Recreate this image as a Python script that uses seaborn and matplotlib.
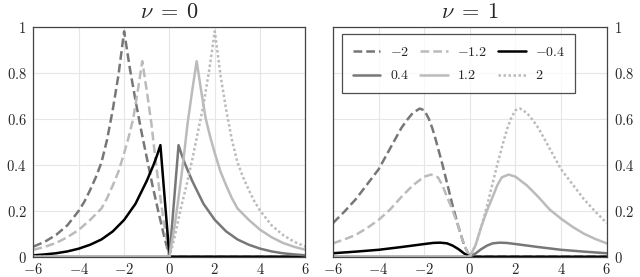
import matplotlib
matplotlib.use('Agg')
import matplotlib.pyplot as plt
from matplotlib.ticker import FuncFormatter
import seaborn as sns

# values, nu = 0 panel
x0_m20 = [-6, -5.5, -5, -4.5, -4, -3.75, -3.5, -3.25, -3, -2.75, -2.5, -2.25, -2,
          -1.75, -1.5, -1.25, -1, -0.75, -0.5, -0.25, 0, 6]
y0_m20 = [0.044, 0.065, 0.095, 0.137, 0.20, 0.24, 0.29, 0.345, 0.41, 0.51, 0.64, 0.79, 0.98,
          0.82, 0.68, 0.55, 0.43, 0.31, 0.20, 0.095, 0, 0]
x0_m12 = [-6, -5.5, -5, -4.5, -4, -3.5, -3, -2.75, -2.5, -2.25, -2, -1.8, -1.6, -1.4, -1.2,
          -1.1, -1, -0.8, -0.65, -0.5, -0.35, -0.25, 0, 6]
y0_m12 = [0.03, 0.043, 0.06, 0.085, 0.117, 0.16, 0.21, 0.255, 0.31, 0.37, 0.45, 0.52, 0.60, 0.72, 0.85,
          0.785, 0.72, 0.58, 0.45, 0.33, 0.22, 0.15, 0, 0]
x0_m04 = [-6, -5.5, -5, -4.5, -4, -3.5, -3, -2.5, -2.25, -2, -1.75, -1.5, -1.25, -1, -0.85,
          -0.7, -0.55, -0.4, -0.2, 0, 6]
y0_m04 = [0.006, 0.01, 0.015, 0.023, 0.035, 0.052, 0.075, 0.11, 0.135, 0.16, 0.195, 0.23, 0.28, 0.33, 0.365,
          0.40, 0.44, 0.485, 0.24, 0, 0]
x0_p04 = [-6, 0, 0.2, 0.4, 0.55, 0.7, 0.85, 1, 1.25, 1.5, 1.75, 2, 2.25, 2.5, 3, 3.5, 4, 4.5,
          5, 5.5, 6]
y0_p04 = [0, 0, 0.24, 0.485, 0.44, 0.40, 0.365, 0.33, 0.28, 0.23, 0.195, 0.16, 0.135, 0.11, 0.075, 0.052, 0.035, 0.023,
          0.015, 0.01, 0.006]
x0_p12 = [-6, 0, 0.25, 0.35, 0.5, 0.65, 0.8, 1, 1.1, 1.2, 1.4, 1.6, 1.8, 2, 2.25, 2.5, 2.75, 3,
          3.5, 4, 4.5, 5, 5.5, 6]
y0_p12 = [0, 0, 0.15, 0.22, 0.33, 0.45, 0.58, 0.72, 0.785, 0.85, 0.72, 0.60, 0.52, 0.45, 0.37, 0.31, 0.255, 0.21,
          0.16, 0.117, 0.085, 0.06, 0.043, 0.03]
x0_p20 = [-6, 0, 0.25, 0.5, 0.75, 1, 1.25, 1.5, 1.75, 2, 2.25, 2.5, 2.75, 3, 3.25, 3.5, 3.75, 4,
          4.5, 5, 5.5, 6]
y0_p20 = [0, 0, 0.095, 0.21, 0.31, 0.42, 0.54, 0.66, 0.81, 0.98, 0.79, 0.64, 0.51, 0.41, 0.345, 0.29, 0.24, 0.20,
          0.137, 0.095, 0.065, 0.044]

# nu = 1 panel
x1_m20 = [-6, -5.5, -5, -4.5, -4, -3.5, -3, -2.75, -2.5, -2.2, -2, -1.8, -1.65, -1.5, -1.35, -1.2,
          -1, -0.75, -0.5, -0.25, 0, 6]
y1_m20 = [0.146, 0.196, 0.25, 0.315, 0.38, 0.47, 0.56, 0.595, 0.625, 0.644, 0.637, 0.60, 0.56, 0.51, 0.455, 0.40,
          0.32, 0.22, 0.13, 0.05, 0, 0]
x1_m12 = [-6, -5.5, -5, -4.5, -4, -3.5, -3, -2.5, -2, -1.7, -1.4, -1.2, -1, -0.75, -0.5, -0.25, 0, 6]
y1_m12 = [0.058, 0.075, 0.095, 0.125, 0.16, 0.205, 0.26, 0.31, 0.348, 0.357, 0.345, 0.31, 0.26, 0.20, 0.13, 0.05, 0, 0]
x1_m04 = [-6, -5, -4, -3, -2, -1.6, -1.3, -1, -0.75, -0.5, -0.25, 0, 6]
y1_m04 = [0.015, 0.022, 0.03, 0.042, 0.055, 0.06, 0.061, 0.058, 0.048, 0.033, 0.014, 0, 0]
x1_p04 = [-6, 0, 0.25, 0.5, 0.75, 1, 1.3, 1.6, 2, 3, 4, 5, 6]
y1_p04 = [0, 0, 0.014, 0.033, 0.048, 0.058, 0.061, 0.06, 0.055, 0.042, 0.03, 0.022, 0.015]
x1_p12 = [-6, 0, 0.25, 0.5, 0.75, 1, 1.2, 1.4, 1.7, 2, 2.5, 3, 3.5, 4, 4.5, 5, 5.5, 6]
y1_p12 = [0, 0, 0.05, 0.13, 0.20, 0.26, 0.31, 0.345, 0.357, 0.348, 0.31, 0.26, 0.205, 0.165, 0.13, 0.10, 0.077, 0.058]
x1_p20 = [-6, 0, 0.25, 0.5, 0.75, 1, 1.2, 1.35, 1.5, 1.65, 1.8, 2, 2.2, 2.5, 2.75, 3, 3.5, 4,
          4.5, 5, 5.5, 6]
y1_p20 = [0, 0, 0.05, 0.13, 0.22, 0.32, 0.40, 0.455, 0.51, 0.56, 0.60, 0.637, 0.644, 0.625, 0.595, 0.56, 0.47, 0.38,
          0.315, 0.25, 0.196, 0.146]

labels = ['$-2$', '$-1.2$', '$-0.4$', '$0.4$', '$1.2$', '$2$']
colors = ['#777777', '#bbbbbb', '#000000', '#777777', '#bbbbbb', '#bbbbbb']
styles = [(0, (3.5, 1.6)), (0, (3.5, 1.6)), '-', '-', '-', (0, (1, 1))]

panels = [
    ('$\\nu\\;=\\;0$', [(x0_m20, y0_m20), (x0_m12, y0_m12), (x0_m04, y0_m04),
                        (x0_p04, y0_p04), (x0_p12, y0_p12), (x0_p20, y0_p20)]),
    ('$\\nu\\;=\\;1$', [(x1_m20, y1_m20), (x1_m12, y1_m12), (x1_m04, y1_m04),
                        (x1_p04, y1_p04), (x1_p12, y1_p12), (x1_p20, y1_p20)]),
]

sns.set_theme(style='white')
plt.rcParams['mathtext.fontset'] = 'cm'
plt.rcParams['font.family'] = ['DejaVu Serif']

fig = plt.figure(figsize=(6.4, 2.77), dpi=100)
axes = [fig.add_axes([0.0523, 0.0733, 0.4250, 0.8303]),
        fig.add_axes([0.5203, 0.0733, 0.4277, 0.8303])]

fmt = FuncFormatter(lambda v, _: f'${v:g}$')

for ax, (title, curves) in zip(axes, panels):
    for (xs, ys), lab, c, ls in zip(curves, labels, colors, styles):
        sns.lineplot(x=xs, y=ys, ax=ax, color=c, linestyle=ls, lw=1.8,
                     sort=False, estimator=None, label=lab, legend=False)
    ax.set_xlim(-6, 6)
    ax.set_ylim(0, 1)
    ax.set_xticks(range(-6, 7, 2))
    ax.set_yticks([0, 0.2, 0.4, 0.6, 0.8, 1])
    ax.xaxis.set_major_formatter(fmt)
    ax.yaxis.set_major_formatter(fmt)
    ax.tick_params(length=0, labelsize=10.5, pad=5)
    ax.tick_params(axis='x', pad=4)
    ax.grid(True, color='#e6e6e6', lw=0.8)
    ax.set_axisbelow(True)
    for s in ax.spines.values():
        s.set_color('#444444')
        s.set_linewidth(0.9)
    ax.set_title(title, fontsize=16, pad=6)

axes[1].yaxis.tick_right()

# legend filled row by row, as in the reference
h, l = axes[1].get_legend_handles_labels()
order = [0, 3, 1, 4, 2, 5]
leg = axes[1].legend([h[i] for i in order], [l[i] for i in order], ncol=3,
                     loc='upper left', bbox_to_anchor=(0.034, 0.967),
                     fontsize=10, handlelength=2.0, handletextpad=0.65,
                     columnspacing=0.8, labelspacing=0.7, borderpad=0.75,
                     frameon=True, fancybox=False, borderaxespad=0)
leg.get_frame().set_edgecolor('#222222')
leg.get_frame().set_linewidth(0.9)

fig.savefig('out.png', dpi=100)
